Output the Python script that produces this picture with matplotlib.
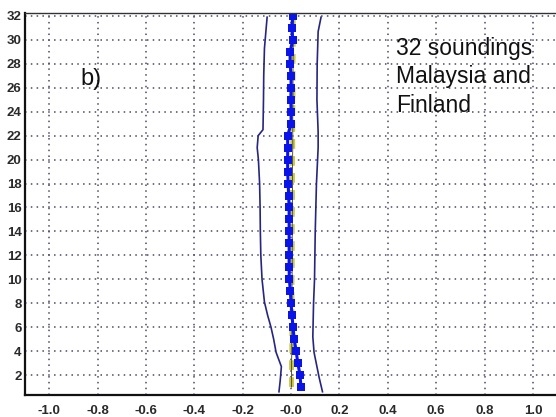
import matplotlib
matplotlib.use("Agg")
import matplotlib.pyplot as plt
import numpy as np

plt.rcParams['font.family'] = ['Liberation Sans', 'DejaVu Sans']

# Data
heights = list(range(1, 33))
blue_mean = [0.041, 0.037, 0.028, 0.021, 0.013, 0.008, 0.004, 0.000, -0.003, -0.007,
             -0.008, -0.008, -0.008, -0.008, -0.008, -0.008, -0.010, -0.012, -0.014, -0.014,
             -0.014, -0.014, 0.000, 0.000, -0.001, 0.000, 0.000, -0.004, -0.004, 0.007,
             0.003, 0.007]
yellow_ref = [0.002, 0.002, 0.002, 0.003, 0.003, 0.003, 0.003, 0.004, 0.004, 0.004,
              0.005, 0.005, 0.005, 0.005, 0.005, 0.006, 0.006, 0.006, 0.006, 0.006,
              0.007, 0.007, 0.007, 0.007, 0.008, 0.008, 0.008, 0.008, 0.009, 0.009,
              0.009, 0.009]

left_y = [0.6, 1.5, 2.7, 3.9, 5.0, 6.0, 7.0, 8.1, 10.0, 12.0, 14.0, 16.0, 18.0, 20.0,
          21.0, 22.0, 22.5, 25.0, 27.0, 29.3, 31.9]
left_x = [-0.050, -0.045, -0.040, -0.062, -0.072, -0.083, -0.097, -0.110, -0.120, -0.125,
          -0.127, -0.128, -0.130, -0.135, -0.140, -0.136, -0.116, -0.114, -0.113, -0.110,
          -0.099]

right_y = [0.6, 1.8, 3.9, 5.2, 8.0, 10.0, 14.0, 18.0, 21.0, 22.3, 25.0, 28.0, 30.7, 31.9]
right_x = [0.130, 0.116, 0.095, 0.090, 0.093, 0.097, 0.100, 0.105, 0.112, 0.112,
           0.107, 0.108, 0.112, 0.124]

xticks = [-1.0, -0.8, -0.6, -0.4, -0.2, 0.0, 0.2, 0.4, 0.6, 0.8, 1.0]
xtick_labels = ['-1.0', '-0.8', '-0.6', '-0.4', '-0.2', '-0.0', '0.2', '0.4', '0.6', '0.8', '1.0']
yticks = list(range(2, 33, 2))
note_lines = ['32 soundings', 'Malaysia and', 'Finland']

fig = plt.figure(figsize=(5.56, 4.17), dpi=100)
ax = fig.add_axes([25/556, 22/417, 1 - 25/556 + 0.002, (395-13)/417])

ax.set_xlim(-1.1, 1.1)
ax.set_ylim(0.33, 32.25)

ax.set_xticks(xticks)
ax.set_xticklabels(xtick_labels)
ax.set_yticks(yticks)
ax.tick_params(length=0, labelsize=9.5, labelcolor='#2a2a2a', pad=2.5)
ax.tick_params(axis='x', pad=7.5)
for lab in ax.get_xticklabels() + ax.get_yticklabels():
    lab.set_fontweight('bold')

ax.grid(True, color='#4a4a66', linestyle=(0, (1, 2.8)), linewidth=1.1)
ax.set_axisbelow(True)

for s in ['left', 'bottom']:
    ax.spines[s].set_linewidth(1.6)
    ax.spines[s].set_color('#111111')
ax.spines['top'].set_linewidth(1.0)
ax.spines['top'].set_color('#333333')
ax.spines['right'].set_visible(False)

# envelopes
ax.plot(left_x, left_y, color='#262680', linewidth=1.2)
ax.plot(right_x, right_y, color='#262680', linewidth=1.2)

# yellow reference
ax.plot(yellow_ref, heights, color='#c8c84a', linewidth=3.5, linestyle=(0, (2, 1.5)))
ax.plot(yellow_ref, heights, color='#555533', linewidth=0.7)

# blue mean
ax.plot(blue_mean, heights, color='#0a14e6', linewidth=2.2, marker='s',
        markersize=6, markeredgewidth=0)

fig.text(80/556, 1 - 85/417, 'b)', fontsize=17, color='#111111', va='baseline')
for i, line in enumerate(note_lines):
    fig.text(396/556, 1 - (55 + 28.5*i)/417, line, fontsize=16.5,
             color='#111111', va='baseline', ha='left')

fig.savefig('out.png', dpi=100)
